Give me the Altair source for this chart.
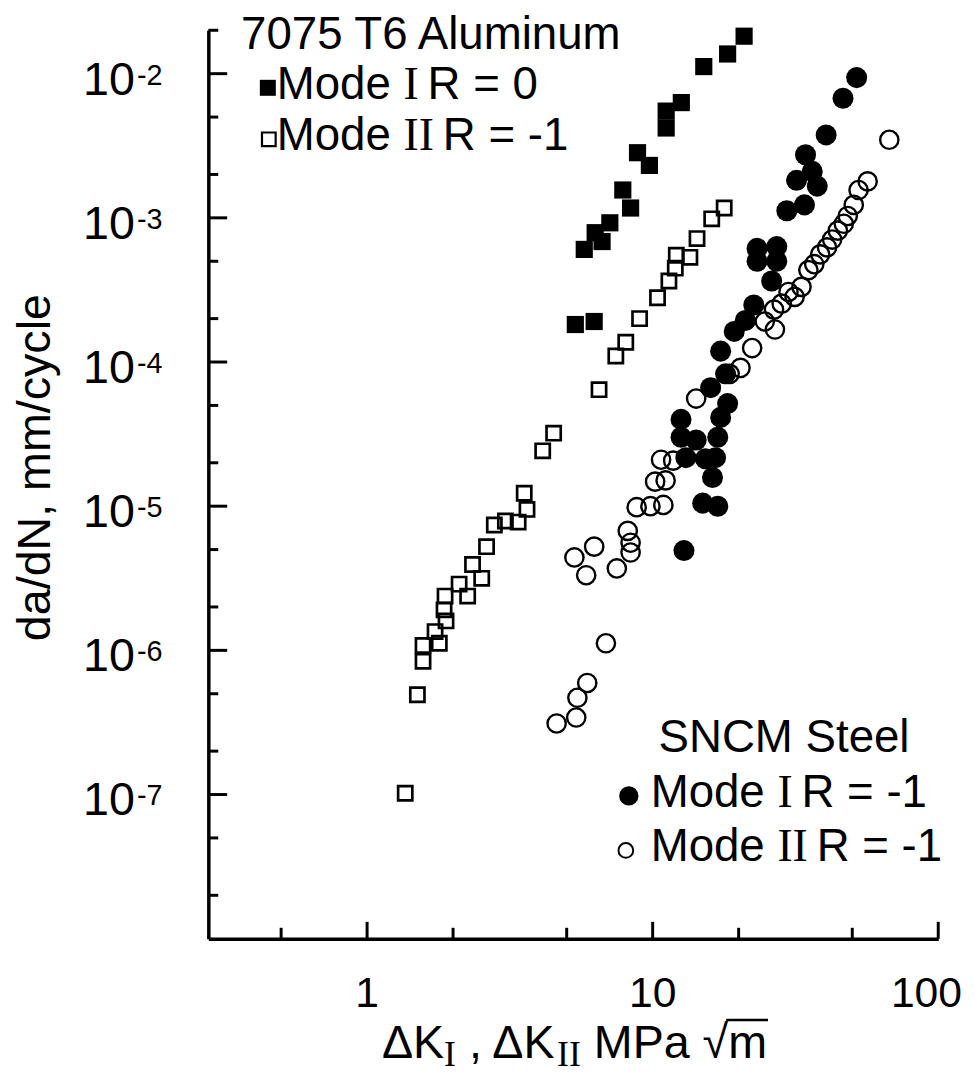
import altair as alt
import pandas as pd

# ---------------- data ----------------
al_mode1_dk = [20.9, 18.3, 15.1, 12.6, 11.15, 11.15, 8.85, 9.74, 7.86, 8.37, 7.08, 6.29, 6.65, 5.76, 6.24, 5.36]
al_mode1_rate = [0.0182, 0.0137, 0.0112, 0.0063, 0.0055, 0.0042, 0.00283, 0.00231, 0.00156, 0.00117,
                 0.000924, 0.000789, 0.000685, 0.000604, 0.000191, 0.000182]

al_mode2_dk = [17.8, 16.1, 14.3, 13.5, 12.1, 12.0, 11.4, 10.4, 9.0, 8.05, 7.43, 6.49, 4.5, 4.12, 3.55,
               3.63, 3.38, 3.05, 2.79, 2.62, 2.34, 2.52, 2.10, 2.25, 1.875, 1.86, 1.89, 1.73, 1.57, 1.79,
               1.57, 1.50, 1.36]
al_mode2_rate = [0.00117, 0.000984, 0.000718, 0.000532, 0.00055, 0.000448, 0.000365, 0.000279, 0.0002,
                 0.000137, 0.00011, 6.43e-5, 3.21e-5, 2.42e-5, 1.23e-5, 9.5e-6, 7.76e-6, 7.9e-6, 7.4e-6,
                 5.24e-6, 3.94e-6, 3.16e-6, 2.88e-6, 2.38e-6, 2.38e-6, 1.91e-6, 1.6e-6, 1.35e-6, 1.08e-6,
                 1.12e-6, 8.4e-7, 4.92e-7, 1.02e-7]

steel_mode1_dk = [51.8, 46.4, 40.5, 34.3, 36.2, 31.9, 37.7, 34.0, 29.5, 23.2, 27.2, 23.2, 27.2, 26.1,
                  22.6, 21.1, 19.3, 17.3, 18.0, 15.96, 18.3, 17.3, 12.57, 12.57, 16.9, 14.2, 13.07, 15.3,
                  16.6, 16.2, 14.97, 16.9, 12.87]
steel_mode1_rate = [0.00939, 0.00675, 0.00376, 0.00274, 0.0021, 0.00182, 0.00166, 0.00123, 0.00112,
                    0.000614, 0.000632, 0.0005, 0.0005, 0.000365, 0.000249, 0.000194, 0.000163, 0.000119,
                    8.28e-5, 6.64e-5, 5.15e-5, 4.13e-5, 4.0e-5, 3.01e-5, 3.01e-5, 2.88e-5, 2.17e-5,
                    2.13e-5, 2.17e-5, 1.58e-5, 1.05e-5, 1.0e-5, 4.92e-6]

steel_mode2_dk = [67.4, 56.6, 52.6, 50.6, 48.2, 46.7, 44.5, 42.5, 40.8, 38.6, 36.8, 35.1, 33.2, 31.4,
                  29.9, 28.3, 26.6, 24.7, 26.8, 22.3, 20.3, 18.6, 14.2, 10.7, 11.8, 10.2, 11.1, 8.79, 9.82,
                  10.9, 8.18, 8.37, 8.37, 7.49, 6.24, 5.32, 5.85, 6.86, 5.90, 5.45, 5.40, 4.61]
steel_mode2_rate = [0.00348, 0.00179, 0.00156, 0.00123, 0.00103, 0.00091, 0.000815, 0.000707, 0.000624,
                    0.000558, 0.000477, 0.000434, 0.000332, 0.000283, 0.000306, 0.000254, 0.000231,
                    0.000191, 0.000168, 0.000125, 9.1e-5, 8.28e-5, 5.58e-5, 2.1e-5, 2.07e-5, 1.48e-5,
                    1.51e-5, 9.84e-6, 1.0e-5, 1.02e-5, 6.74e-6, 5.58e-6, 4.77e-6, 3.7e-6, 5.24e-6,
                    4.41e-6, 3.32e-6, 1.12e-6, 5.94e-7, 4.69e-7, 3.42e-7, 3.11e-7]

x_major_ticks = [1, 10, 100]
x_minor_ticks = [0.5, 2, 5, 20, 50]
x_tick_labels = ["1", "10", "100"]
y_exponents = [-2, -3, -4, -5, -6, -7]
y_minor_ticks = [2e-2, 5e-3, 2e-3, 5e-4, 2e-4, 5e-5, 2e-5, 5e-6, 2e-6, 5e-7, 2e-7, 5e-8, 2e-8]

x_domain = [0.278, 100]
y_domain = [1e-8, 2e-2]

# ---------------- layout ----------------
W, H = 736, 916
SANS = "Liberation Sans"
SERIF = "Liberation Serif"
FS = 46

xs = alt.Scale(type="log", domain=x_domain, nice=False)
ys = alt.Scale(type="log", domain=y_domain, nice=False)
AXX = alt.Axis(domain=True, domainColor="black", domainWidth=3.5, ticks=False, labels=False,
               grid=False, title=None)
AXY = alt.Axis(domain=True, domainColor="black", domainWidth=3.5, ticks=False, labels=False,
               grid=False, title=None)


def series(dk, rate):
    return alt.Chart(pd.DataFrame({"dk": dk, "rate": rate}))


def XE(field="dk"):
    return alt.X(f"{field}:Q", scale=xs, axis=AXX)


def YE(field="rate"):
    return alt.Y(f"{field}:Q", scale=ys, axis=AXY)


open_circ = series(steel_mode2_dk, steel_mode2_rate).mark_point(
    shape="circle", size=340, filled=False, color="black", strokeWidth=2.4, opacity=1
).encode(x=XE(), y=YE())
fill_circ = series(steel_mode1_dk, steel_mode1_rate).mark_point(
    shape="circle", size=450, filled=True, color="black", opacity=1
).encode(x=XE(), y=YE())
open_sq = series(al_mode2_dk, al_mode2_rate).mark_point(
    shape="square", size=205, filled=False, color="black", strokeWidth=2.7, opacity=1
).encode(x=XE(), y=YE())
fill_sq = series(al_mode1_dk, al_mode1_rate).mark_point(
    shape="square", size=300, filled=True, color="black", opacity=1
).encode(x=XE(), y=YE())

# ticks (inward)
y_major_vals = [10.0 ** e for e in y_exponents]
ytick_major = alt.Chart(pd.DataFrame({"v": y_major_vals})).mark_rule(color="black", strokeWidth=3).encode(
    y=YE("v"), x=alt.value(0), x2=alt.value(19))
ytick_minor = alt.Chart(pd.DataFrame({"v": y_minor_ticks})).mark_rule(color="black", strokeWidth=3).encode(
    y=YE("v"), x=alt.value(0), x2=alt.value(10))
xtick_major = alt.Chart(pd.DataFrame({"v": x_major_ticks})).mark_rule(color="black", strokeWidth=3).encode(
    x=XE("v"), y=alt.value(H), y2=alt.value(H - 17))
xtick_minor = alt.Chart(pd.DataFrame({"v": x_minor_ticks})).mark_rule(color="black", strokeWidth=3).encode(
    x=XE("v"), y=alt.value(H), y2=alt.value(H - 11))

# y tick labels: "10" with superscript exponent
ylab_df = pd.DataFrame({"v": y_major_vals, "base": ["10"] * len(y_exponents),
                        "exp": [str(e) for e in y_exponents]})
ylab_base = alt.Chart(ylab_df).mark_text(align="right", baseline="alphabetic", font=SANS, fontSize=47,
                                         color="black", dy=21).encode(
    y=YE("v"), x=alt.value(-74), text="base:N")
ylab_exp = alt.Chart(ylab_df).mark_text(align="left", baseline="alphabetic", font=SANS, fontSize=29,
                                        color="black", dy=11).encode(
    y=YE("v"), x=alt.value(-72), text="exp:N")

# x tick labels (the last one is pulled inside the page edge)
XLF = 43
xlab_df = pd.DataFrame({"v": x_major_ticks, "t": x_tick_labels})
xlab_inner = alt.Chart(xlab_df).transform_filter("datum.v < 100").mark_text(
    align="center", baseline="alphabetic", font=SANS, fontSize=XLF, color="black").encode(
    x=XE("v"), y=alt.value(H + 69), text="t:N")
xlab_last = alt.Chart(xlab_df).transform_filter("datum.v >= 100").mark_text(
    align="right", baseline="alphabetic", font=SANS, fontSize=XLF, color="black", dx=24).encode(
    x=XE("v"), y=alt.value(H + 69), text="t:N")


def label(text, x, y, size=FS, font=SANS, align="left", angle=0):
    return alt.Chart(pd.DataFrame({"t": [text]})).mark_text(
        align=align, baseline="alphabetic", font=font, fontSize=size, color="black", angle=angle
    ).encode(text="t:N", x=alt.value(x), y=alt.value(y))


def glyph(shape, x, y, size, filled, sw=2.0):
    return alt.Chart(pd.DataFrame({"a": [0]})).mark_point(
        shape=shape, size=size, filled=filled, color="black", strokeWidth=sw, opacity=1
    ).encode(x=alt.value(x), y=alt.value(y))


# widths (em) of Liberation Sans / Serif glyph runs
EM_MODE_SP = 2.779   # "Mode "
EM_SPACE = 0.278
EM_I_SERIF = 0.333
EM_II_SERIF = 0.666


def mode_row(x0, y0, roman, rest):
    r_w = EM_I_SERIF if roman == "I" else EM_II_SERIF
    xr = x0 + EM_MODE_SP * FS
    xrest = xr + (r_w + EM_SPACE * 0.7) * FS
    return [label("Mode", x0, y0), label(roman, xr, y0, font=SERIF), label(rest, xrest, y0)]


legend_layers = []
# Aluminum block
legend_layers.append(label("7075 T6 Aluminum", 33, 19))
legend_layers.append(glyph("square", 60, 58, 260, True))
legend_layers += mode_row(69, 69, "I", "R = 0")
legend_layers.append(glyph("square", 61, 110, 190, False, 2.2))
legend_layers += mode_row(69, 121, "II", "R = -1")
# Steel block
legend_layers.append(label("SNCM Steel", 454, 728))
legend_layers.append(glyph("circle", 424, 772, 380, True))
legend_layers += mode_row(446, 783, "I", "R = -1")
legend_layers.append(glyph("circle", 421, 827, 220, False, 2.0))
legend_layers += mode_row(446, 838, "II", "R = -1")

# y-axis title
title_layers = [label("da/dN, mm/cycle", -160, 441, size=47, align="center", angle=270)]

# x-axis title: ΔK_I , ΔK_II MPa √m  (subscripts in serif)
TF = 47
SUB = 36
xb, yb, ysub = 175, 1036, 1044
p = xb
title_layers.append(label("\u0394K", p, yb, size=TF))
p += 1.335 * TF
title_layers.append(label("I", p, ysub, size=SUB, font=SERIF))
p += 0.333 * SUB + EM_SPACE * TF
title_layers.append(label(", \u0394K", p, yb, size=TF))
p += 1.891 * TF
title_layers.append(label("II", p, ysub, size=SUB, font=SERIF))
p += 0.666 * SUB + EM_SPACE * TF
title_layers.append(label("MPa", p, yb, size=TF))
p += 2.056 * TF + EM_SPACE * TF
title_layers.append(label("\u221a", p, yb, size=TF))
p += 0.549 * TF
title_layers.append(label("m", p, yb, size=TF))
overline = alt.Chart(pd.DataFrame({"a": [0]})).mark_rule(color="black", strokeWidth=2.5).encode(
    x=alt.value(p - 2), x2=alt.value(p + 0.833 * TF + 1), y=alt.value(yb - 38))
title_layers.append(overline)

chart = alt.layer(
    open_circ, fill_circ, open_sq, fill_sq,
    ytick_major, ytick_minor, xtick_major, xtick_minor,
    ylab_base, ylab_exp, xlab_inner, xlab_last,
    *legend_layers, *title_layers
).properties(
    width=W, height=H,
    padding={"left": 202, "top": 18, "right": 29, "bottom": 136},
    autosize=alt.AutoSizeParams(type="none"),
).configure_view(stroke=None)

chart.save("out.html", embed_options={"renderer": "svg", "actions": False})
